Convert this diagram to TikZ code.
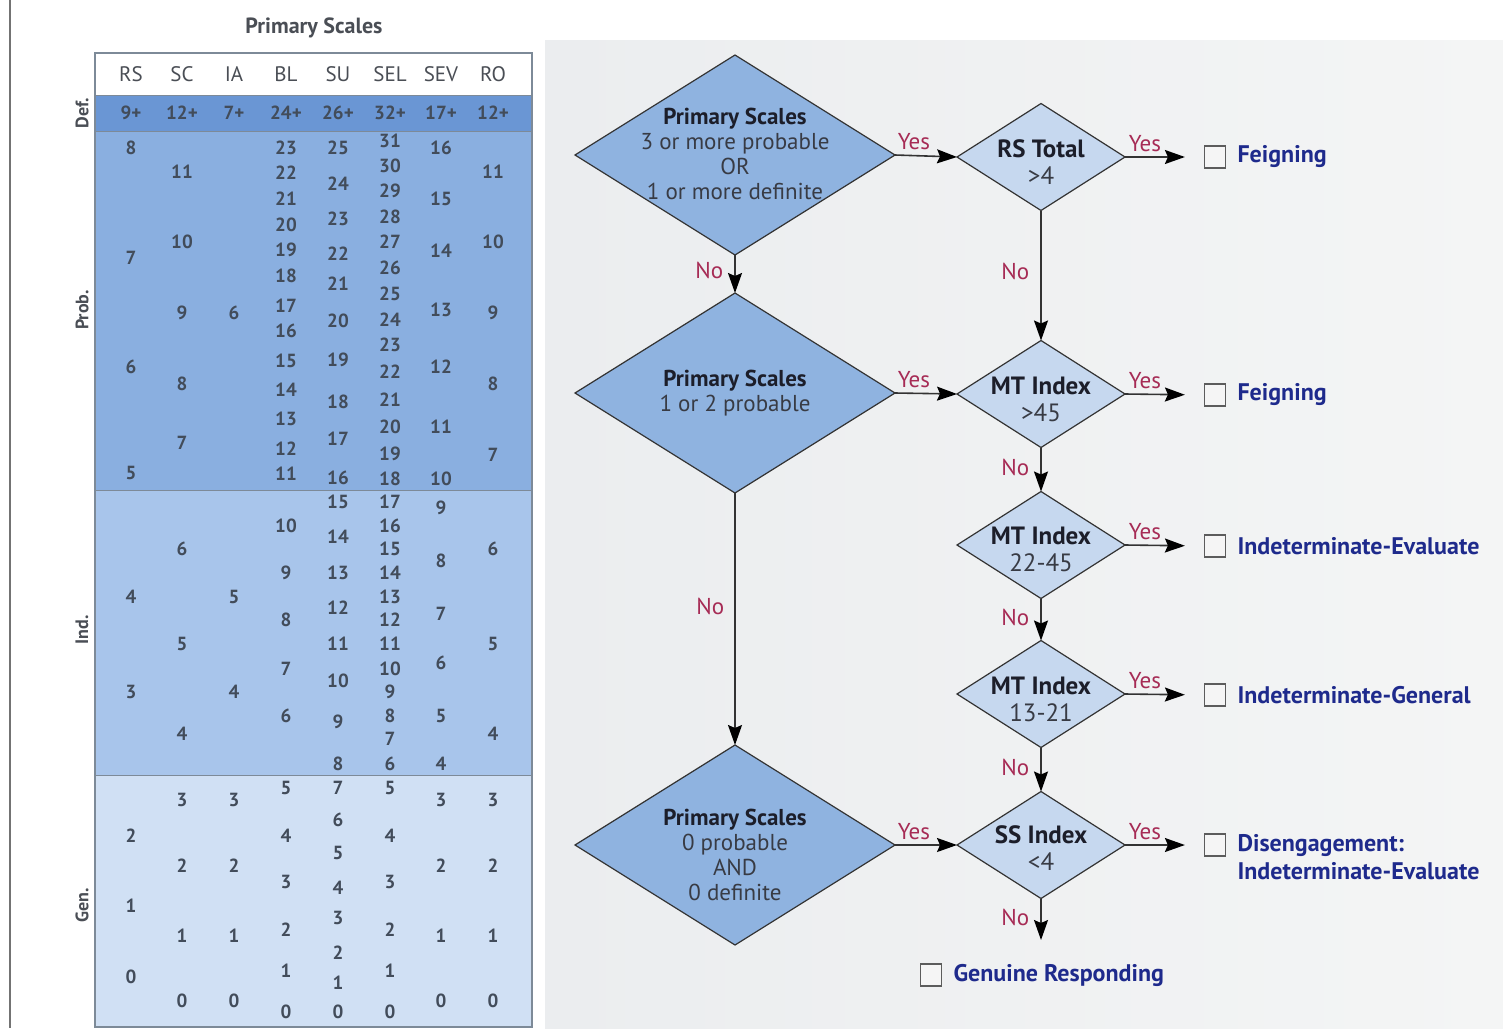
\documentclass[tikz,border=0pt]{standalone}
\usepackage{fontspec}
\setmainfont{PT Sans}
\usepackage{tikz}
\usetikzlibrary{shapes.geometric,arrows.meta,positioning}
\definecolor{PageGrey}{HTML}{EBEDEF}
\definecolor{PageGreyLight}{HTML}{F4F5F5}
\definecolor{TableEdge}{HTML}{7D8A98}
\definecolor{TableDef}{HTML}{6A96D4}
\definecolor{TableProb}{HTML}{8AAFE0}
\definecolor{TableInd}{HTML}{A8C5EB}
\definecolor{TableGen}{HTML}{D0E0F4}
\definecolor{TableNum}{HTML}{424C5A}
\definecolor{TableHead}{HTML}{4A4E55}
\definecolor{FlowLine}{HTML}{333333}
\definecolor{FlowBig}{HTML}{8FB3E0}
\definecolor{FlowSmall}{HTML}{C6D8EF}
\definecolor{FlowHead}{HTML}{1C1E2A}
\definecolor{FlowSub}{HTML}{383B44}
\definecolor{AnswerRed}{HTML}{A62B55}
\definecolor{OutcomeBlue}{HTML}{1E2A8C}

\begin{document}
\begin{tikzpicture}[x=0.5pt,y=-0.5pt,
    num/.style={font=\bfseries\fontsize{9.5}{11}\selectfont,text=TableNum,inner sep=0pt},
    colhead/.style={font=\fontsize{10.5}{12}\selectfont,text=TableHead,inner sep=0pt},
    rowlabel/.style={font=\bfseries\fontsize{9}{11}\selectfont,text=TableHead,rotate=90,inner sep=0pt},
    bigdia/.style={diamond,draw=FlowLine,fill=FlowBig,line width=0.6pt,minimum width=160pt,minimum height=100pt,inner sep=0pt,outer sep=0pt},
    smalldia/.style={bigdia,fill=FlowSmall,minimum width=84pt,minimum height=53.5pt},
    diatext/.style={align=center,text=FlowSub,font=\fontsize{11.5}{12.5}\selectfont,inner sep=0pt},
    smalltext/.style={diatext,font=\fontsize{12.5}{13.5}\selectfont},
    flow/.style={draw=FlowLine,line width=0.8pt,-{Stealth[length=10pt,width=7pt,inset=1.5pt,color=black]}},
    ans/.style={text=AnswerRed,font=\fontsize{11.5}{13}\selectfont,inner sep=0pt},
    checkbox/.style={draw=FlowLine!80,fill=white!92!gray,line width=0.6pt,minimum width=10.5pt,minimum height=11pt,inner sep=0pt},
    outcome/.style={text=OutcomeBlue,font=\bfseries\fontsize{12}{14.5}\selectfont,inner sep=0pt,anchor=west}]

  \useasboundingbox (0,0) rectangle (1503,1028);
  \fill[white] (0,0) rectangle (1503,1028);
  \shade[left color=PageGrey,right color=PageGreyLight] (545,40) rectangle (1503,1028);
  \draw[black!55,line width=1.2pt] (10,0) -- (10,1028);

  % score table
  \node[font=\bfseries\fontsize{11}{13}\selectfont,text=TableHead] (tabtitle) at (314,28) {Primary Scales};
  \fill[white] (95,53) rectangle (532,95);
  \fill[TableDef] (95,95) rectangle (532,131);
  \fill[TableProb] (95,131) rectangle (532,490);
  \fill[TableInd] (95,490) rectangle (532,775);
  \fill[TableGen] (95,775) rectangle (532,1027);
  \draw[TableEdge,line width=0.5pt] (95,95) -- (532,95) (95,131) -- (532,131)
    (95,490) -- (532,490) (95,775) -- (532,775);
  \draw[TableEdge,line width=0.8pt] (95,53) rectangle (532,1027);

  \node[rowlabel] (lbldef) at (82,113) {Def.};
  \node[rowlabel] (lblprob) at (82,310) {Prob.};
  \node[rowlabel] (lblind) at (82,630) {Ind.};
  \node[rowlabel] (lblgen) at (82,905) {Gen.};

  \foreach \c/\x/\d in {RS/131/9+,SC/182/12+,IA/234/7+,BL/286/24+,SU/338/26+,SEL/390/32+,SEV/441/17+,RO/493/12+}{
    \node[colhead] (head\c) at (\x,74) {\c};
    \node[num] (def\c) at (\x,113) {\d};
  }

  \foreach \v/\y in {8/148,7/258,6/367,5/473,4/597,3/692,2/836,1/906,0/977}
    \node[num] (rs\v) at (131,\y) {\v};
  \foreach \v/\y in {11/172,10/242,9/313,8/384,7/443,6/549,5/644,4/734,3/800,2/866,1/936,0/1001}
    \node[num] (sc\v) at (182,\y) {\v};
  \foreach \v/\y in {6/313,5/597,4/692,3/800,2/866,1/936,0/1001}
    \node[num] (ia\v) at (234,\y) {\v};
  \foreach \v/\y in {23/148,22/173,21/199,20/225,19/250,18/276,17/306,16/331,15/361,14/390,13/419,12/449,11/474,
      10/526,9/573,8/620,7/669,6/716,5/788,4/836,3/882,2/930,1/971,0/1012}
    \node[num] (bl\v) at (286,\y) {\v};
  \foreach \v/\y in {25/148,24/184,23/219,22/254,21/284,20/321,19/360,18/402,17/439,16/478,
      15/502,14/537,13/573,12/608,11/644,10/681,9/722,8/764,7/788,6/820,5/853,4/888,3/918,2/953,1/983,0/1012}
    \node[num] (su\v) at (338,\y) {\v};
  \foreach \v/\y in {31/141,30/166,29/191,28/217,27/242,26/268,25/294,24/320,23/345,22/372,21/400,20/427,19/454,18/479,
      17/502,16/526,15/549,14/573,13/597,12/620,11/644,10/669,9/692,8/716,7/739,6/764,5/788,4/836,3/882,2/930,1/971,0/1012}
    \node[num] (sel\v) at (390,\y) {\v};
  \foreach \v/\y in {16/148,15/199,14/251,13/310,12/367,11/427,10/479,9/508,8/561,7/614,6/663,5/716,4/764,3/800,2/866,1/936,0/1001}
    \node[num] (sev\v) at (441,\y) {\v};
  \foreach \v/\y in {11/172,10/242,9/313,8/384,7/455,6/549,5/644,4/734,3/800,2/866,1/936,0/1001}
    \node[num] (ro\v) at (493,\y) {\v};

  % decision diamonds
  \node[bigdia] (ps3) at (735,155) {};
  \node[diatext] (ps3txt) at (735,154) {\textbf{\color{FlowHead}Primary Scales}\\3 or more probable\\OR\\1 or more definite};
  \node[bigdia] (ps12) at (735,393) {};
  \node[diatext] (ps12txt) at (735,393) {\textbf{\color{FlowHead}Primary Scales}\\1 or 2 probable};
  \node[bigdia] (ps0) at (735,845) {};
  \node[diatext] (ps0txt) at (735,855) {\textbf{\color{FlowHead}Primary Scales}\\0 probable\\AND\\0 definite};

  \node[smalldia] (rs) at (1041,157) {};
  \node[smalltext] (rstxt) at (1041,162) {\textbf{\color{FlowHead}RS Total}\\>4};
  \node[smalldia] (mt45) at (1041,394) {};
  \node[smalltext] (mt45txt) at (1041,399) {\textbf{\color{FlowHead}MT Index}\\>45};
  \node[smalldia] (mt22) at (1041,545) {};
  \node[smalltext] (mt22txt) at (1041,549) {\textbf{\color{FlowHead}MT Index}\\22-45};
  \node[smalldia] (mt13) at (1041,694) {};
  \node[smalltext] (mt13txt) at (1041,699) {\textbf{\color{FlowHead}MT Index}\\13-21};
  \node[smalldia] (ss) at (1041,845) {};
  \node[smalltext] (sstxt) at (1041,848) {\textbf{\color{FlowHead}SS Index}\\<4};

  % outcomes
  \node[checkbox] (chk1) at (1215,157) {};
  \node[outcome,right=5.5pt of chk1] (out1) {Feigning};
  \node[checkbox] (chk2) at (1215,395) {};
  \node[outcome,right=5.5pt of chk2] (out2) {Feigning};
  \node[checkbox] (chk3) at (1215,546) {};
  \node[outcome,right=5.5pt of chk3] (out3) {Indeterminate-Evaluate};
  \node[checkbox] (chk4) at (1215,695) {};
  \node[outcome,right=5.5pt of chk4] (out4) {Indeterminate-General};
  \node[checkbox] (chk5) at (1215,845) {};
  \node[outcome,right=5.5pt of chk5] (out5) {Disengagement:};
  \node[outcome,anchor=north west] (out5b) at ([yshift=-3pt]out5.south west) {Indeterminate-Evaluate};
  \node[checkbox] (chk6) at (931,975) {};
  \node[outcome,right=5.5pt of chk6] (out6) {Genuine Responding};
  \coordinate (ssend) at (1041,940);

  % connectors
  \draw[flow] (ps3.east) -- node[ans,pos=0,anchor=south west,xshift=1pt,yshift=2pt] (yes1) {Yes} (rs.west);
  \draw[flow,shorten >=9.5pt] (rs.east) -- node[ans,pos=0,anchor=south west,xshift=1.5pt,yshift=2pt] (yes2) {Yes} (chk1.west);
  \draw[flow] (ps3.south) -- node[ans,pos=.4,left=5.5pt] (no1) {No} (ps12.north);
  \draw[flow] (rs.south) -- node[ans,pos=.47,left=5.5pt] (no2) {No} (mt45.north);
  \draw[flow] (ps12.east) -- node[ans,pos=0,anchor=south west,xshift=1pt,yshift=2pt] (yes3) {Yes} (mt45.west);
  \draw[flow,shorten >=9.5pt] (mt45.east) -- node[ans,pos=0,anchor=south west,xshift=1.5pt,yshift=2pt] (yes4) {Yes} (chk2.west);
  \draw[flow] (mt45.south) -- node[ans,pos=.45,left=5.5pt] (no3) {No} (mt22.north);
  \draw[flow,shorten >=9.5pt] (mt22.east) -- node[ans,pos=0,anchor=south west,xshift=1.5pt,yshift=2pt] (yes5) {Yes} (chk3.west);
  \draw[flow] (mt22.south) -- node[ans,pos=.45,left=5.5pt] (no4) {No} (mt13.north);
  \draw[flow,shorten >=9.5pt] (mt13.east) -- node[ans,pos=0,anchor=south west,xshift=1.5pt,yshift=2pt] (yes6) {Yes} (chk4.west);
  \draw[flow] (mt13.south) -- node[ans,pos=.45,left=5.5pt] (no5) {No} (ss.north);
  \draw[flow] (ps12.south) -- node[ans,pos=.45,left=5pt] (no6) {No} (ps0.north);
  \draw[flow] (ps0.east) -- node[ans,pos=0,anchor=south west,xshift=1pt,yshift=2pt] (yes7) {Yes} (ss.west);
  \draw[flow,shorten >=9.5pt] (ss.east) -- node[ans,pos=0,anchor=south west,xshift=1.5pt,yshift=2pt] (yes8) {Yes} (chk5.west);
  \draw[flow] (ss.south) -- node[ans,pos=.45,left=5.5pt] (no7) {No} (ssend);
\end{tikzpicture}
\end{document}
